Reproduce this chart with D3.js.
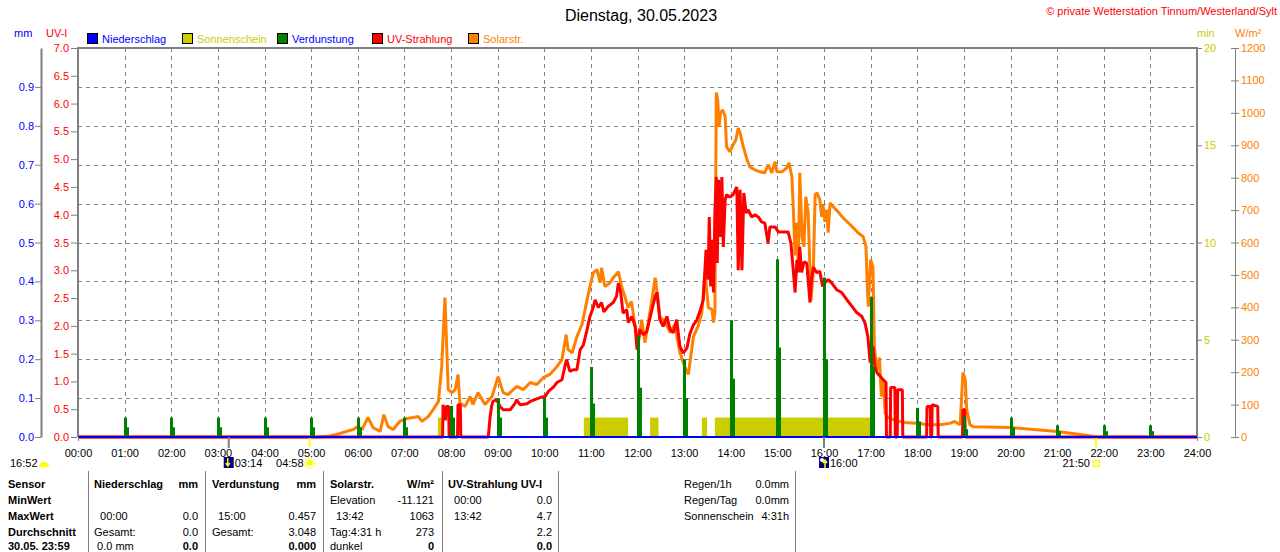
<!DOCTYPE html>
<html>
<head>
<meta charset="utf-8">
<script src="https://cdn.jsdelivr.net/npm/d3@7"></script>
<style>
body { margin: 0; background: #fff; }
svg { display: block; font-family: "Liberation Sans", Arial, sans-serif; }
</style>
</head>
<body>
<div id="graph"></div>
<script>
// tick labels
const hourLabels = ["00:00","01:00","02:00","03:00","04:00","05:00","06:00","07:00","08:00","09:00","10:00","11:00","12:00",
  "13:00","14:00","15:00","16:00","17:00","18:00","19:00","20:00","21:00","22:00","23:00","24:00"];
const hourTicks = [0,1,2,3,4,5,6,7,8,9,10,11,12,13,14,15,16,17,18,19,20,21,22,23,24];
const mmTicks = [0,0.1,0.2,0.3,0.4,0.5,0.6,0.7,0.8,0.9];
const uvTicks = [0,0.5,1,1.5,2,2.5,3,3.5,4,4.5,5,5.5,6,6.5,7];
const minTicks = [0,5,10,15,20];
const wTicks = [0,100,200,300,400,500,600,700,800,900,1000,1100,1200];

const legendNames = ["Niederschlag","Sonnenschein","Verdunstung","UV-Strahlung","Solarstr."];
const legendBox = ["#0000ff","#cccc00","#008000","#ff0000","#ff8000"];
const legendText = ["#0000ff","#cccc00","#0000ff","#ff0000","#ff8000"];

// Sonnenschein: [start h, end h], 1 min each minute
const sunshine = [[7.72,7.83],[10.85,11.8],[12.27,12.45],[13.38,13.49],[13.66,17.07]];

// Verdunstung per hour (mm): peak and lower step
const evapHours = [1,2,3,4,5,6,7,8,9,10,11,12,13,14,15,16,17,18,19,20,21,22,23];
const evapPeak = [0.05,0.05,0.05,0.05,0.05,0.05,0.05,0.08,0.10,0.10,0.18,0.26,0.20,0.30,0.457,0.41,0.36,0.075,0.053,0.05,0.03,0.03,0.03];
const evapBase = [0.025,0.025,0.025,0.025,0.025,0.025,0.025,0.05,0.05,0.05,0.086,0.127,0.10,0.15,0.23,0.20,0.18,0.04,0.02,0.025,0.015,0.015,0.015];

// Solarstrahlung [h, W/m²]
const solar = [[0,0],[5.2,0],[5.36,2],[5.62,11],[5.9,23],[6.0,32],[6.09,23],[6.22,60],[6.33,29],[6.48,17],[6.56,69],[6.65,32],
  [6.76,23],[6.9,48],[7.05,57],[7.19,60],[7.3,63],[7.38,48],[7.51,63],[7.62,85],[7.73,109],[7.8,217],[7.87,430],[7.91,270],
  [7.94,146],[8.02,137],[8.09,146],[8.15,193],[8.19,106],[8.3,94],[8.41,125],[8.47,100],[8.58,137],[8.73,100],[8.88,125],
  [9.01,186],[9.12,137],[9.22,131],[9.41,156],[9.55,146],[9.7,168],[9.84,162],[9.98,183],[10.12,193],[10.27,217],[10.38,239],
  [10.47,316],[10.51,270],[10.6,260],[10.7,310],[10.81,347],[10.92,424],[10.98,464],[11.05,506],[11.13,516],[11.2,476],
  [11.23,522],[11.3,464],[11.41,476],[11.48,491],[11.59,510],[11.66,464],[11.73,433],[11.8,399],[11.87,418],[11.95,341],
  [12.02,291],[12.09,362],[12.16,291],[12.23,353],[12.3,415],[12.38,491],[12.42,445],[12.48,371],[12.59,356],[12.7,322],
  [12.8,347],[12.91,260],[13.02,214],[13.09,193],[13.2,310],[13.3,341],[13.38,383],[13.45,506],[13.52,399],[13.6,393],
  [13.63,353],[13.66,383],[13.69,1063],[13.72,1040],[13.75,957],[13.78,1000],[13.83,1009],[13.88,988],[13.91,895],[13.98,880],
  [14.05,901],[14.11,917],[14.16,953],[14.2,938],[14.27,895],[14.35,855],[14.41,833],[14.52,824],[14.63,818],[14.73,815],
  [14.8,840],[14.88,815],[14.95,849],[14.99,818],[15.1,818],[15.2,830],[15.25,846],[15.31,803],[15.34,710],[15.38,560],
  [15.41,661],[15.45,525],[15.48,815],[15.53,618],[15.57,587],[15.61,741],[15.66,692],[15.72,420],[15.77,506],[15.81,747],
  [15.85,753],[15.91,732],[15.95,679],[15.98,716],[16.02,664],[16.06,701],[16.09,630],[16.13,722],[16.2,710],[16.3,695],
  [16.41,676],[16.52,661],[16.63,645],[16.73,630],[16.84,618],[16.9,587],[16.93,464],[16.95,402],[17.0,547],[17.05,525],
  [17.08,279],[17.13,208],[17.19,245],[17.23,125],[17.27,177],[17.31,75],[17.37,60],[17.48,54],[17.63,48],[17.74,45],
  [18.06,42],[18.2,38],[18.49,38],[18.7,42],[18.8,48],[18.92,38],[18.98,199],[19.03,177],[19.06,85],[19.13,38],[19.2,32],
  [19.5,31],[20.0,29],[20.5,23],[21.0,17],[21.5,8],[21.75,2],[21.83,0],[24,0]];

// UV-Strahlung [h, UV-I]
const uv = [[0,0],[7.82,0],[7.83,0.58],[7.88,0.3],[7.9,0.55],[7.95,0.55],[7.96,0],[8.14,0],[8.15,0.58],[8.2,0.58],[8.21,0],
  [8.8,0],[8.84,0.37],[8.87,0.55],[8.9,0.64],[8.98,0.67],[9.05,0.55],[9.12,0.49],[9.27,0.49],[9.37,0.6],[9.41,0.67],[9.48,0.58],
  [9.63,0.6],[9.7,0.64],[9.91,0.71],[10.02,0.73],[10.09,0.82],[10.2,0.9],[10.27,0.98],[10.38,1.03],[10.45,1.3],[10.48,1.39],
  [10.55,1.18],[10.62,1.21],[10.7,1.21],[10.77,1.57],[10.84,1.66],[10.91,1.9],[10.98,2.17],[11.05,2.33],[11.09,2.47],
  [11.16,2.33],[11.23,2.42],[11.28,2.25],[11.37,2.35],[11.48,2.42],[11.55,2.53],[11.59,2.77],[11.64,2.6],[11.69,2.23],
  [11.77,2.29],[11.8,2.06],[11.88,2.17],[11.95,1.99],[11.99,1.57],[12.05,1.93],[12.13,1.84],[12.2,1.9],[12.3,2.26],[12.38,2.53],
  [12.42,2.6],[12.48,2.11],[12.55,1.99],[12.63,2.17],[12.7,1.93],[12.77,1.88],[12.84,2.11],[12.91,1.63],[12.98,1.51],[13.06,1.6],
  [13.12,1.85],[13.2,2.02],[13.27,2.1],[13.35,2.29],[13.41,2.47],[13.47,3.37],[13.51,2.83],[13.54,3.96],[13.57,2.71],[13.6,3.55],
  [13.63,2.6],[13.66,4.03],[13.69,4.68],[13.71,3.13],[13.74,4.63],[13.77,3.6],[13.81,4.68],[13.84,3.42],[13.88,4.27],[13.91,4.36],
  [13.98,4.32],[14.05,4.36],[14.13,4.5],[14.16,3.0],[14.2,4.45],[14.24,3.0],[14.28,4.39],[14.33,4.03],[14.37,4.09],[14.45,3.96],
  [14.52,4.0],[14.59,3.96],[14.66,3.87],[14.73,3.85],[14.8,3.49],[14.84,3.78],[14.95,3.78],[15.02,3.69],[15.12,3.69],[15.23,3.69],
  [15.29,3.49],[15.34,3.01],[15.38,2.6],[15.42,3.19],[15.45,2.96],[15.48,3.42],[15.52,2.96],[15.57,3.15],[15.63,3.13],[15.7,2.42],
  [15.73,2.83],[15.77,3.06],[15.84,2.96],[15.91,2.98],[15.97,2.71],[16.02,2.78],[16.09,2.83],[16.16,2.78],[16.27,2.65],[16.38,2.6],
  [16.49,2.47],[16.6,2.35],[16.7,2.24],[16.81,2.17],[16.88,2.05],[16.94,1.81],[16.99,1.34],[17.05,1.63],[17.09,1.27],[17.14,1.15],
  [17.2,1.1],[17.27,1.03],[17.33,0.98],[17.34,0],[17.42,0],[17.43,0.89],[17.52,0.89],[17.53,0],[17.57,0],[17.58,0.85],[17.68,0.85],
  [17.69,0],[18.2,0],[18.21,0.55],[18.28,0.55],[18.29,0],[18.31,0],[18.32,0.58],[18.44,0.55],[18.45,0],[18.97,0],[18.98,0.49],
  [19.02,0.49],[19.03,0],[24,0]];

// Sonne / Mond
const moonRise = 3.233, sunRise = 4.967, moonSet = 16.0, sunSet = 21.833;
const eventLabels = ["16:52","03:14","04:58","16:00","21:50"];

// Tabelle
const rowLabels = ["Sensor","MinWert","MaxWert","Durchschnitt","30.05. 23:59"];
const blockHeads = [["Niederschlag","mm"],["Verdunstung","mm"],["Solarstr.","W/m²"],["UV-Strahlung UV-I",""]];
const blockRows = [
  [["",""],["  00:00","0.0"],["Gesamt:","0.0"],[" 0.0 mm","0.0"]],
  [["",""],["  15:00","0.457"],["Gesamt:","3.048"],["","0.000"]],
  [["Elevation","-11.121"],["  13:42","1063"],["Tag:4:31 h","273"],["dunkel","0"]],
  [["  00:00","0.0"],["  13:42","4.7"],["","2.2"],["","0.0"]]
];
const extraRows = [["Regen/1h","0.0mm"],["Regen/Tag","0.0mm"],["Sonnenschein","4:31h"]];

const W = 1280, H = 552;
const L = 78, R = 1197, T = 48, B = 437;
const grey = "#808080";
const nb = s => s.replace(/ /g, "\u00a0");

const svg = d3.select("#graph").append("svg")
  .attr("width", W).attr("height", H);

const x = d3.scaleLinear().domain([0, 24]).range([L, R]);
const yMM = d3.scaleLinear().domain([0, 1]).range([B, T]);
const yUV = d3.scaleLinear().domain([0, 7]).range([B, T]);
const yMin = d3.scaleLinear().domain([0, 20]).range([B, T]);
const yW = d3.scaleLinear().domain([0, 1200]).range([B, T]);

// title
svg.append("text").attr("x", 641).attr("y", 21).attr("text-anchor", "middle")
  .attr("font-size", 16).text("Dienstag, 30.05.2023");
svg.append("text").attr("x", 1277).attr("y", 15).attr("text-anchor", "end")
  .attr("font-size", 11).attr("fill", "#ff0000").text("© private Wetterstation Tinnum/Westerland/Sylt");

// unit labels
svg.append("text").attr("x", 14).attr("y", 37).attr("font-size", 11).attr("fill", "#0000ff").text("mm");
svg.append("text").attr("x", 46).attr("y", 37).attr("font-size", 11).attr("fill", "#ff0000").text("UV-I");
svg.append("text").attr("x", 1197).attr("y", 37).attr("font-size", 11).attr("fill", "#cccc00").text("min");
svg.append("text").attr("x", 1235).attr("y", 37).attr("font-size", 11).attr("fill", "#ff8000").text("W/m²");

// legend
const legX = [87, 182, 277, 372, 468];
const leg = svg.append("g").selectAll("g").data(legendNames).join("g")
  .attr("transform", (d, i) => `translate(${legX[i]},33)`);
leg.append("rect").attr("x", 0.5).attr("y", 0.5).attr("width", 10).attr("height", 10)
  .attr("fill", (d, i) => legendBox[i]).attr("stroke", "#000");
leg.append("text").attr("x", 15).attr("y", 9.5).attr("font-size", 11)
  .attr("fill", (d, i) => legendText[i]).text(d => d);

// grid
const grid = svg.append("g").attr("stroke", grey).attr("stroke-dasharray", "4,4").attr("stroke-width", 1);
grid.selectAll("line.h").data(mmTicks.slice(1)).join("line").attr("class", "h")
  .attr("x1", L).attr("x2", R).attr("y1", d => Math.round(yMM(d)) + 0.5).attr("y2", d => Math.round(yMM(d)) + 0.5);
grid.selectAll("line.v").data(hourTicks.slice(1, -1)).join("line").attr("class", "v")
  .attr("y1", T).attr("y2", B).attr("x1", d => Math.round(x(d)) + 0.5).attr("x2", d => Math.round(x(d)) + 0.5);

// Sonnenschein
svg.append("g").selectAll("rect").data(sunshine).join("rect")
  .attr("x", d => x(d[0])).attr("width", d => x(d[1]) - x(d[0]))
  .attr("y", yMin(1)).attr("height", B - yMin(1)).attr("fill", "#cccc00");

// Solarstrahlung
svg.append("path").datum(solar)
  .attr("d", d3.line().x(d => x(d[0])).y(d => yW(d[1])))
  .attr("fill", "none").attr("stroke", "#ff8000").attr("stroke-width", 3).attr("stroke-linejoin", "bevel");

// UV
svg.append("path").datum(uv)
  .attr("d", d3.line().x(d => x(d[0])).y(d => yUV(d[1])))
  .attr("fill", "none").attr("stroke", "#ff0000").attr("stroke-width", 3).attr("stroke-linejoin", "bevel");

// Verdunstung
const ev = svg.append("g").attr("fill", "#008000");
ev.selectAll("rect.p").data(evapHours).join("rect").attr("class", "p")
  .attr("x", d => Math.round(x(d)) - 1).attr("width", 3)
  .attr("y", (d, i) => yMM(evapPeak[i])).attr("height", (d, i) => B - yMM(evapPeak[i]));
ev.selectAll("rect.b").data(evapHours).join("rect").attr("class", "b")
  .attr("x", d => Math.round(x(d)) - 1).attr("width", 5)
  .attr("y", (d, i) => yMM(evapBase[i])).attr("height", (d, i) => B - yMM(evapBase[i]));

// plot frame
svg.append("path")
  .attr("d", `M${L},${B}V${T}H${R}V${B}`)
  .attr("fill", "none").attr("stroke", grey).attr("stroke-width", 2);
// Niederschlag (0 mm) baseline
svg.append("line").attr("x1", L).attr("x2", R).attr("y1", B).attr("y2", B)
  .attr("stroke", "#0000ff").attr("stroke-width", 2);

function styleAxis(g, color) {
  g.attr("font-family", null).attr("font-size", 11);
  g.selectAll(".tick line").attr("stroke", grey);
  g.selectAll(".tick text").attr("fill", color);
  g.select(".domain").attr("stroke", grey).attr("stroke-width", 2);
}

// x axis (ticks only at the ends)
const gx = svg.append("g").attr("transform", `translate(0,${B})`)
  .call(d3.axisBottom(x).tickValues(hourTicks).tickFormat((d, i) => hourLabels[i]).tickSize(4).tickPadding(8).tickSizeOuter(0));
styleAxis(gx, "#000");
gx.select(".domain").remove();
gx.selectAll(".tick line").attr("stroke-opacity", d => (d === 0 || d === 24) ? 1 : 0);

// mm axis
const gmm = svg.append("g").attr("transform", "translate(41,0)")
  .call(d3.axisLeft(yMM).tickValues(mmTicks).tickFormat(d3.format(".1f")).tickSize(6).tickPadding(1).tickSizeOuter(0));
styleAxis(gmm, "#0000ff");

// UV axis
const guv = svg.append("g").attr("transform", `translate(${L - 1},0)`)
  .call(d3.axisLeft(yUV).tickValues(uvTicks).tickFormat(d3.format(".1f")).tickSize(6).tickPadding(2).tickSizeOuter(0));
styleAxis(guv, "#ff0000");
guv.select(".domain").remove();

// min axis
const gmin = svg.append("g").attr("transform", `translate(${R + 1},0)`)
  .call(d3.axisRight(yMin).tickValues(minTicks).tickSize(4).tickPadding(2).tickSizeOuter(0));
styleAxis(gmin, "#cccc00");
gmin.select(".domain").remove();

// W/m² axis
const gw = svg.append("g").attr("transform", "translate(1235,0)")
  .call(d3.axisRight(yW).tickValues(wTicks).tickFormat(d3.format("d")).tickSize(4).tickPadding(2).tickSizeOuter(0));
styleAxis(gw, "#ff8000");
gw.select(".domain").attr("stroke-width", 1);
gw.selectAll(".tick line").attr("x1", -4);

// sun / moon markers
const ev2 = svg.append("g");
ev2.append("line").attr("x1", x(moonRise)).attr("x2", x(moonRise)).attr("y1", B).attr("y2", 448).attr("stroke", grey).attr("stroke-width", 2);
ev2.append("line").attr("x1", x(moonSet)).attr("x2", x(moonSet)).attr("y1", B).attr("y2", 448).attr("stroke", grey).attr("stroke-width", 2);
ev2.append("line").attr("x1", x(sunRise)).attr("x2", x(sunRise)).attr("y1", B + 1).attr("y2", 447).attr("stroke", "#ffff00").attr("stroke-width", 2);
ev2.append("line").attr("x1", x(sunSet)).attr("x2", x(sunSet)).attr("y1", B + 1).attr("y2", 447).attr("stroke", "#ffff00").attr("stroke-width", 2);

ev2.append("text").attr("x", 10).attr("y", 467).attr("font-size", 11).text(eventLabels[0]);
ev2.append("path").attr("transform", "translate(44,467)")
  .attr("d", d3.arc()({innerRadius: 0, outerRadius: 5, startAngle: -Math.PI / 2, endAngle: Math.PI / 2}))
  .attr("fill", "#ffff00");

// moon rise icon
const mr = ev2.append("g").attr("transform", `translate(${x(moonRise) - 5},457)`);
mr.append("rect").attr("width", 10).attr("height", 11).attr("fill", "#000080");
mr.append("path").attr("d", "M4,1V8M2,6L4,9L6,6").attr("stroke", "#ffff00").attr("stroke-width", 1.5).attr("fill", "none");
ev2.append("text").attr("x", x(moonRise) + 6).attr("y", 467).attr("font-size", 11).text(eventLabels[1]);

// sun rise
ev2.append("text").attr("x", x(sunRise) - 6).attr("y", 467).attr("font-size", 11).attr("text-anchor", "end").text(eventLabels[2]);
ev2.append("circle").attr("cx", x(sunRise)).attr("cy", 463).attr("r", 3).attr("fill", "#ffff00");
ev2.append("circle").attr("cx", x(sunRise)).attr("cy", 463).attr("r", 5).attr("fill", "none")
  .attr("stroke", "#ffff00").attr("stroke-width", 1.5).attr("stroke-dasharray", "1.5,1.5");

// moon set icon
const ms = ev2.append("g").attr("transform", `translate(${x(moonSet) - 5},457)`);
ms.append("rect").attr("width", 10).attr("height", 11).attr("fill", "#000080");
ms.append("circle").attr("cx", 3).attr("cy", 3).attr("r", 2).attr("fill", "#fff");
ms.append("path").attr("d", "M6,11V4M4,6L6,3L8,6").attr("stroke", "#ffff00").attr("stroke-width", 1.5).attr("fill", "none");
ev2.append("text").attr("x", x(moonSet) + 6).attr("y", 467).attr("font-size", 11).text(eventLabels[3]);

// sun set
ev2.append("text").attr("x", x(sunSet) - 6).attr("y", 467).attr("font-size", 11).attr("text-anchor", "end").text(eventLabels[4]);
ev2.append("rect").attr("x", x(sunSet) - 2.5).attr("y", 460.5).attr("width", 6).attr("height", 6)
  .attr("fill", "none").attr("stroke", "#ffff00").attr("stroke-width", 1.5);

// table
const tb = svg.append("g").attr("font-size", 11);
const rowY = [488, 504, 520, 536, 550];
const sepX = [88, 205, 323, 442, 558, 795];
tb.selectAll("line").data(sepX).join("line")
  .attr("x1", d => d + 0.5).attr("x2", d => d + 0.5).attr("y1", 471).attr("y2", H)
  .attr("stroke", grey);
tb.selectAll("text.lab").data(rowLabels).join("text").attr("class", "lab")
  .attr("x", 8).attr("y", (d, i) => rowY[i]).attr("font-weight", "bold").text(d => d);

const blockL = [94, 212, 330, 448];
const blockR = [198, 316, 434, 552];
blockHeads.forEach((h, b) => {
  tb.append("text").attr("x", blockL[b]).attr("y", rowY[0]).attr("font-weight", "bold").text(h[0]);
  tb.append("text").attr("x", blockR[b]).attr("y", rowY[0]).attr("font-weight", "bold").attr("text-anchor", "end").text(h[1]);
  blockRows[b].forEach((r, i) => {
    tb.append("text").attr("x", blockL[b]).attr("y", rowY[i + 1]).text(nb(r[0]));
    tb.append("text").attr("x", blockR[b]).attr("y", rowY[i + 1]).attr("text-anchor", "end")
      .attr("font-weight", i === 3 ? "bold" : null).text(r[1]);
  });
});
extraRows.forEach((r, i) => {
  tb.append("text").attr("x", 684).attr("y", rowY[i]).text(r[0]);
  tb.append("text").attr("x", 789).attr("y", rowY[i]).attr("text-anchor", "end").text(r[1]);
});
</script>
</body>
</html>
